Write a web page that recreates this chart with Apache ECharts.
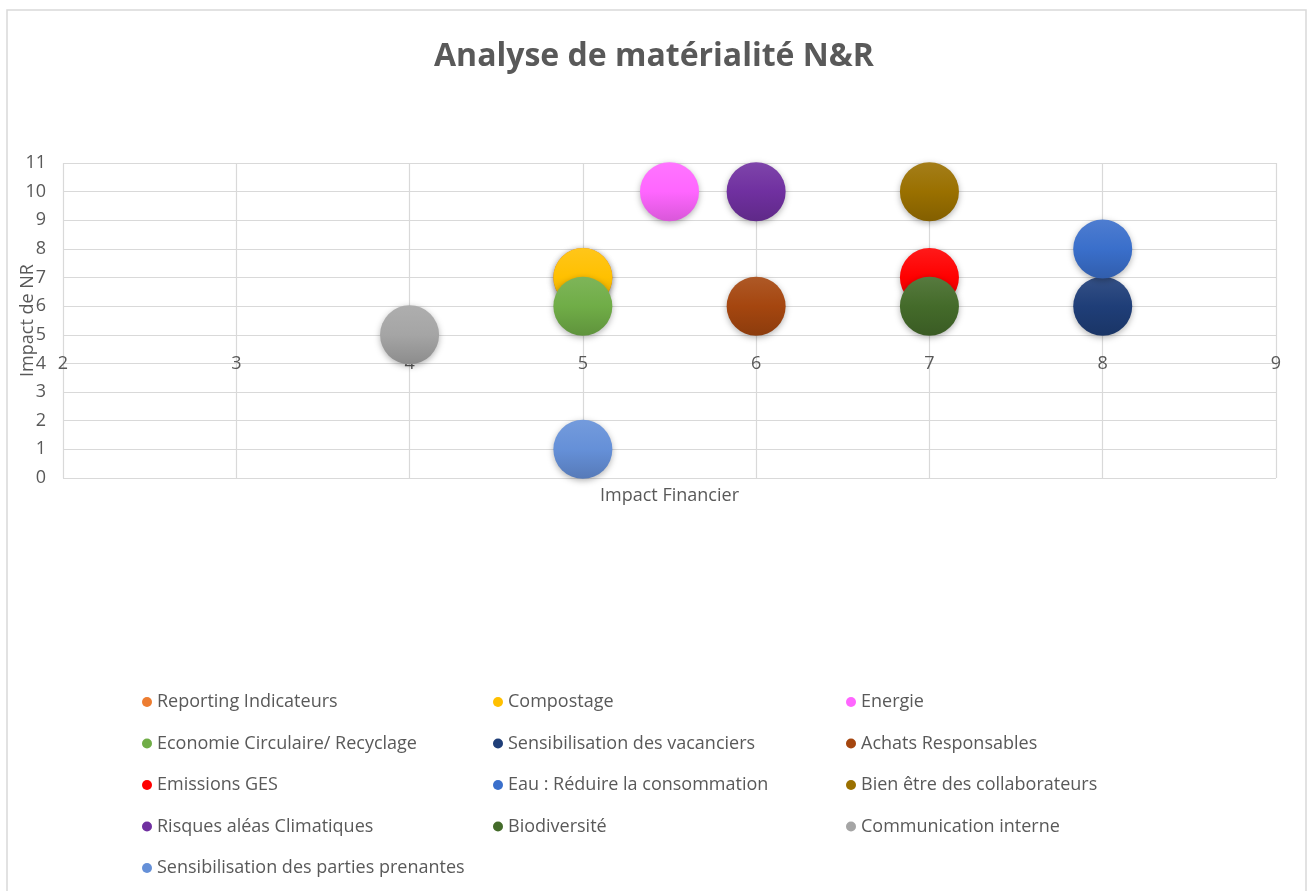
<!DOCTYPE html>
<html>
<head>
<meta charset="utf-8">
<script src="https://cdn.jsdelivr.net/npm/echarts@6.0.0/dist/echarts.min.js"></script>
<style>
  html, body { margin: 0; padding: 0; background: #fff; }
  #chart { width: 1308px; height: 891px; }
</style>
</head>
<body>
<div id="chart"></div>
<script>
// données
var names = [
    'Reporting Indicateurs', 'Compostage', 'Energie',
    'Economie Circulaire/ Recyclage', 'Sensibilisation des vacanciers', 'Achats Responsables',
    'Emissions GES', 'Eau : Réduire la consommation', 'Bien être des collaborateurs',
    'Risques aléas Climatiques', 'Biodiversité', 'Communication interne',
    'Sensibilisation des parties prenantes'
];
var impactFinancier = [5, 5, 5.5, 5, 8, 6, 7, 8, 7, 6, 7, 4, 5];
var impactNR = [7, 7, 10, 6, 6, 6, 7, 8, 10, 10, 6, 5, 1];
var colors = [
    '#ED7D31', '#FFC000', '#FF66FF',
    '#70AD47', '#1F3E78', '#A5460F',
    '#FF0000', '#3A6FCB', '#9A7000',
    '#7030A0', '#446B2A', '#A5A5A5',
    '#6590D8'
];
var xTicks = {min: 2, max: 9, interval: 1};
var yTicks = {min: 0, max: 11, interval: 1};

var textColor = '#595959';
var font = 'Open Sans';

function shade(hex, amt) {
    var n = parseInt(hex.slice(1), 16);
    var r = (n >> 16) & 255, g = (n >> 8) & 255, b = n & 255;
    function f(c) {
        var v = amt >= 0 ? c + (255 - c) * amt : c * (1 + amt);
        return Math.round(Math.max(0, Math.min(255, v)));
    }
    return 'rgb(' + f(r) + ',' + f(g) + ',' + f(b) + ')';
}

var series = names.map(function (n, i) {
    return {
        name: n,
        type: 'scatter',
        symbolSize: 59,
        data: [[impactFinancier[i], impactNR[i]]],
        itemStyle: {
            opacity: 1,
            color: new echarts.graphic.LinearGradient(0, 0, 0, 1, [
                {offset: 0, color: shade(colors[i], 0.1)},
                {offset: 0.5, color: colors[i]},
                {offset: 1, color: shade(colors[i], -0.15)}
            ]),
            shadowBlur: 6,
            shadowOffsetY: 2,
            shadowColor: 'rgba(0,0,0,0.3)'
        }
    };
});

function legendCol(idx, left) {
    return {
        orient: 'vertical',
        left: left,
        top: 688,
        icon: 'circle',
        itemWidth: 10,
        itemHeight: 10,
        itemGap: 23.5,
        data: idx.map(function (k) { return {name: names[k], itemStyle: {color: colors[k], opacity: 1}}; }),
        textStyle: {color: textColor, fontSize: 18, fontFamily: font}
    };
}

var option = {
    backgroundColor: '#fff',
    animation: false,
    title: {
        text: 'Analyse de matérialité N&R',
        left: 'center',
        top: 36,
        textStyle: {color: textColor, fontSize: 32, fontWeight: 'bold', fontFamily: font}
    },
    graphic: [{
        type: 'polyline',
        shape: {points: [[7, 891], [7, 10], [1306, 10], [1306, 891]]},
        style: {stroke: '#d9d9d9', lineWidth: 1.5, fill: null},
        silent: true
    }],
    legend: [
        legendCol([0, 3, 6, 9, 12], 137),
        legendCol([1, 4, 7, 10], 488),
        legendCol([2, 5, 8, 11], 841)
    ],
    grid: {left: 63, right: 32, top: 163, bottom: 413, containLabel: false, outerBoundsMode: 'none'},
    xAxis: [{
        type: 'value',
        min: xTicks.min, max: xTicks.max, interval: xTicks.interval,
        position: 'bottom',
        offset: -4 * (891 - 163 - 413) / 11,
        axisLine: {show: false},
        axisTick: {show: false},
        axisLabel: {color: textColor, fontSize: 18, fontFamily: font, margin: 0, verticalAlign: 'middle'},
        splitLine: {show: true, lineStyle: {color: '#d9d9d9', width: 1.2}}
    }, {
        type: 'value',
        min: xTicks.min, max: xTicks.max,
        position: 'bottom',
        name: 'Impact Financier',
        nameLocation: 'middle',
        nameGap: 9,
        nameMoveOverlap: false,
        nameTextStyle: {color: textColor, fontSize: 18, fontFamily: font},
        axisLine: {show: false},
        axisTick: {show: false},
        axisLabel: {show: false},
        splitLine: {show: false}
    }],
    yAxis: {
        type: 'value',
        min: yTicks.min, max: yTicks.max, interval: yTicks.interval,
        name: 'Impact de NR',
        nameLocation: 'middle',
        nameGap: 26,
        nameMoveOverlap: false,
        nameTextStyle: {color: textColor, fontSize: 18, fontFamily: font},
        axisLine: {show: false},
        axisTick: {show: false},
        axisLabel: {color: textColor, fontSize: 18, fontFamily: font, margin: 17},
        splitLine: {show: true, lineStyle: {color: '#d9d9d9', width: 1.2}}
    },
    series: series
};

var chart = echarts.init(document.getElementById('chart'));
chart.setOption(option);
</script>
</body>
</html>
